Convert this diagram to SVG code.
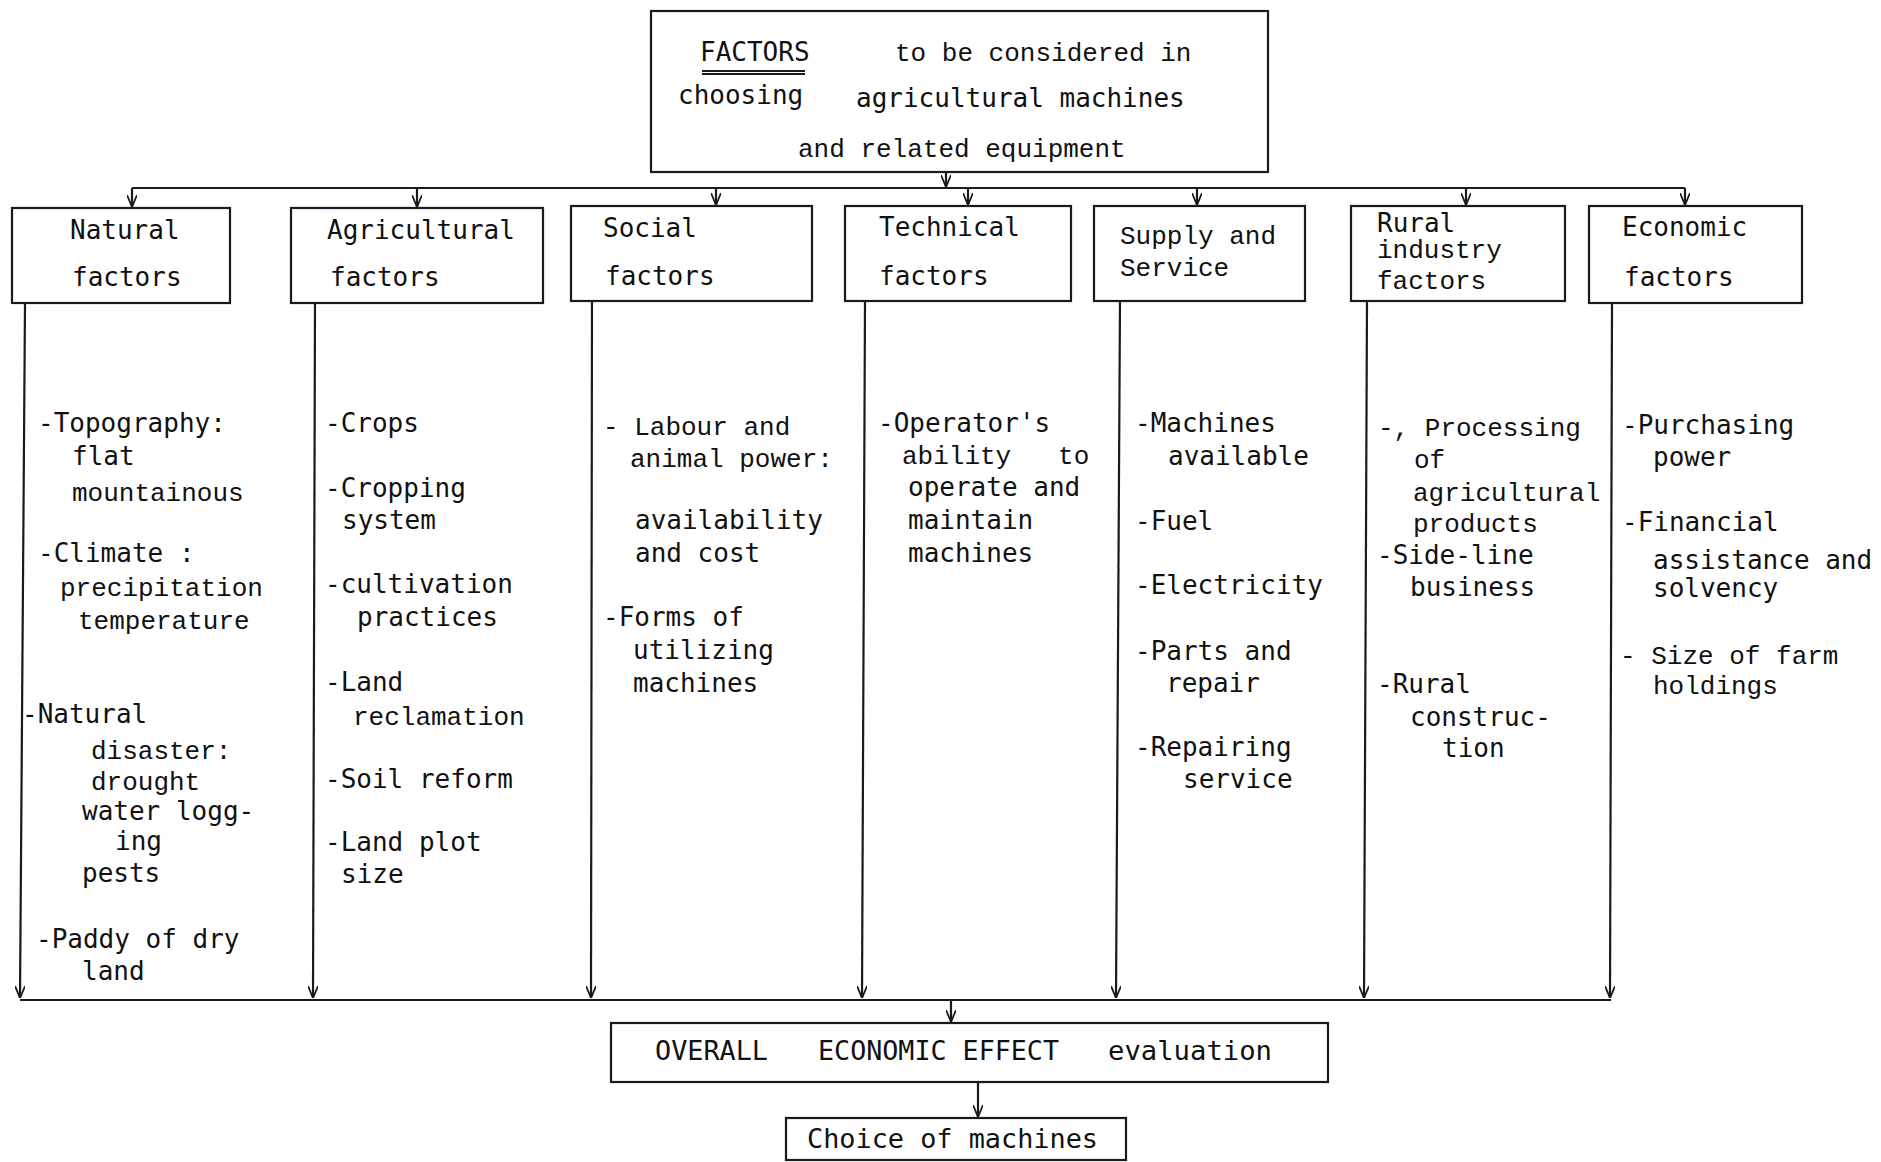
<svg xmlns="http://www.w3.org/2000/svg" width="1881" height="1162" viewBox="0 0 1881 1162">
<style>
.box{fill:none;stroke:#1a1a1a;stroke-width:2.2}
.ln{fill:none;stroke:#1a1a1a;stroke-width:2.2}
.s{font-family:"DejaVu Sans Mono","Liberation Mono",monospace;font-size:26px;fill:#111}
.c{font-family:"Liberation Mono","Courier New",monospace;font-size:26px;fill:#111}
</style>
<defs>
<marker id="ah" viewBox="0 0 12 10" refX="12" refY="5" markerWidth="12" markerHeight="10" markerUnits="userSpaceOnUse" orient="auto">
<path d="M0,0 L12,5 L0,10" fill="none" stroke="#1a1a1a" stroke-width="1.8"/>
</marker>
</defs>
<rect width="1881" height="1162" fill="#fff"/>

<g id="connectors">
<line class="ln" x1="946" y1="172" x2="946" y2="187" marker-end="url(#ah)"/>
<line class="ln" x1="132" y1="188" x2="1685" y2="188"/>
<line class="ln" x1="132" y1="188" x2="132" y2="207" marker-end="url(#ah)"/>
<line class="ln" x1="417" y1="188" x2="417" y2="207" marker-end="url(#ah)"/>
<line class="ln" x1="716" y1="188" x2="716" y2="205" marker-end="url(#ah)"/>
<line class="ln" x1="968" y1="188" x2="968" y2="205" marker-end="url(#ah)"/>
<line class="ln" x1="1197" y1="188" x2="1197" y2="205" marker-end="url(#ah)"/>
<line class="ln" x1="1466" y1="188" x2="1466" y2="205" marker-end="url(#ah)"/>
<line class="ln" x1="1685" y1="188" x2="1685" y2="205" marker-end="url(#ah)"/>
<line class="ln" x1="25" y1="303" x2="20" y2="998" marker-end="url(#ah)"/>
<line class="ln" x1="315" y1="303" x2="313" y2="998" marker-end="url(#ah)"/>
<line class="ln" x1="592" y1="301" x2="591" y2="998" marker-end="url(#ah)"/>
<line class="ln" x1="865" y1="301" x2="862" y2="998" marker-end="url(#ah)"/>
<line class="ln" x1="1120" y1="301" x2="1116" y2="998" marker-end="url(#ah)"/>
<line class="ln" x1="1367" y1="301" x2="1364" y2="998" marker-end="url(#ah)"/>
<line class="ln" x1="1612" y1="303" x2="1610" y2="998" marker-end="url(#ah)"/>
<line class="ln" x1="20" y1="1000" x2="1611" y2="1000"/>
<line class="ln" x1="951" y1="1000" x2="951" y2="1022" marker-end="url(#ah)"/>
<line class="ln" x1="978" y1="1082" x2="978" y2="1117" marker-end="url(#ah)"/>
</g>

<g id="title">
<rect class="box" x="651" y="11" width="617" height="161"/>
<text class="s" x="700" y="61">FACTORS</text>
<line class="ln" x1="702" y1="71" x2="805" y2="71" stroke-width="1.5"/>
<line class="ln" x1="702" y1="74" x2="805" y2="74" stroke-width="1.5"/>
<text class="c" x="895" y="61">to be considered in</text>
<text class="s" x="678" y="104">choosing</text>
<text class="s" x="856" y="107">agricultural machines</text>
<text class="c" x="798" y="157">and related equipment</text>
</g>

<g id="natural">
<rect class="box" x="12" y="208" width="218" height="95"/>
<text class="s" x="70" y="239">Natural</text>
<text class="s" x="72" y="286">factors</text>
<text class="s" x="38" y="432">-Topography:</text>
<text class="s" x="72" y="465">flat</text>
<text class="c" x="72" y="501">mountainous</text>
<text class="s" x="38" y="562">-Climate :</text>
<text class="c" x="60" y="596">precipitation</text>
<text class="c" x="78" y="629">temperature</text>
<text class="s" x="22" y="723">-Natural</text>
<text class="c" x="91" y="759">disaster:</text>
<text class="c" x="91" y="790">drought</text>
<text class="s" x="82" y="820">water logg-</text>
<text class="s" x="115" y="850">ing</text>
<text class="s" x="82" y="882">pests</text>
<text class="s" x="36" y="948">-Paddy of dry</text>
<text class="s" x="82" y="980">land</text>
</g>

<g id="agricultural">
<rect class="box" x="291" y="208" width="252" height="95"/>
<text class="s" x="327" y="239">Agricultural</text>
<text class="s" x="330" y="286">factors</text>
<text class="s" x="325" y="432">-Crops</text>
<text class="s" x="325" y="497">-Cropping</text>
<text class="s" x="342" y="529">system</text>
<text class="s" x="325" y="593">-cultivation</text>
<text class="s" x="357" y="626">practices</text>
<text class="s" x="325" y="691">-Land</text>
<text class="c" x="353" y="725">reclamation</text>
<text class="s" x="325" y="788">-Soil reform</text>
<text class="s" x="325" y="851">-Land plot</text>
<text class="s" x="341" y="883">size</text>
</g>

<g id="social">
<rect class="box" x="571" y="206" width="241" height="95"/>
<text class="s" x="603" y="237">Social</text>
<text class="s" x="605" y="285">factors</text>
<text class="c" x="603" y="435">- Labour and</text>
<text class="c" x="630" y="467">animal power:</text>
<text class="s" x="635" y="529">availability</text>
<text class="s" x="635" y="562">and cost</text>
<text class="s" x="603" y="626">-Forms of</text>
<text class="s" x="633" y="659">utilizing</text>
<text class="s" x="633" y="692">machines</text>
</g>

<g id="technical">
<rect class="box" x="845" y="206" width="226" height="95"/>
<text class="s" x="879" y="236">Technical</text>
<text class="s" x="879" y="285">factors</text>
<text class="s" x="878" y="432">-Operator's</text>
<text class="c" x="902" y="464" xml:space="preserve">ability   to</text>
<text class="s" x="908" y="496">operate and</text>
<text class="s" x="908" y="529">maintain</text>
<text class="s" x="908" y="562">machines</text>
</g>

<g id="supply">
<rect class="box" x="1094" y="206" width="211" height="95"/>
<text class="c" x="1120" y="244">Supply and</text>
<text class="c" x="1120" y="276">Service</text>
<text class="s" x="1135" y="432">-Machines</text>
<text class="s" x="1168" y="465">available</text>
<text class="s" x="1135" y="530">-Fuel</text>
<text class="s" x="1135" y="594">-Electricity</text>
<text class="s" x="1135" y="660">-Parts and</text>
<text class="s" x="1166" y="692">repair</text>
<text class="s" x="1135" y="756">-Repairing</text>
<text class="s" x="1183" y="788">service</text>
</g>

<g id="rural">
<rect class="box" x="1351" y="206" width="214" height="95"/>
<text class="s" x="1377" y="232">Rural</text>
<text class="c" x="1377" y="258">industry</text>
<text class="c" x="1377" y="289">factors</text>
<text class="c" x="1378" y="436">-, Processing</text>
<text class="c" x="1414" y="468">of</text>
<text class="c" x="1413" y="501">agricultural</text>
<text class="c" x="1413" y="532">products</text>
<text class="s" x="1377" y="564">-Side-line</text>
<text class="s" x="1410" y="596">business</text>
<text class="s" x="1377" y="693">-Rural</text>
<text class="s" x="1410" y="726">construc-</text>
<text class="s" x="1442" y="757">tion</text>
</g>

<g id="economic">
<rect class="box" x="1589" y="206" width="213" height="97"/>
<text class="s" x="1622" y="236">Economic</text>
<text class="s" x="1624" y="286">factors</text>
<text class="s" x="1622" y="434">-Purchasing</text>
<text class="s" x="1653" y="466">power</text>
<text class="s" x="1622" y="531">-Financial</text>
<text class="s" x="1653" y="569">assistance and</text>
<text class="s" x="1653" y="597">solvency</text>
<text class="c" x="1620" y="664">- Size of farm</text>
<text class="c" x="1653" y="694">holdings</text>
</g>

<g id="overall">
<rect class="box" x="611" y="1023" width="717" height="59"/>
<text class="s" x="655" y="1060" textLength="113" lengthAdjust="spacingAndGlyphs">OVERALL</text>
<text class="s" x="818" y="1060" textLength="241" lengthAdjust="spacingAndGlyphs">ECONOMIC EFFECT</text>
<text class="s" x="1108" y="1060" textLength="164" lengthAdjust="spacingAndGlyphs">evaluation</text>
</g>

<g id="choice">
<rect class="box" x="786" y="1118" width="340" height="42"/>
<text class="s" x="807" y="1148" textLength="291" lengthAdjust="spacingAndGlyphs">Choice of machines</text>
</g>
</svg>
